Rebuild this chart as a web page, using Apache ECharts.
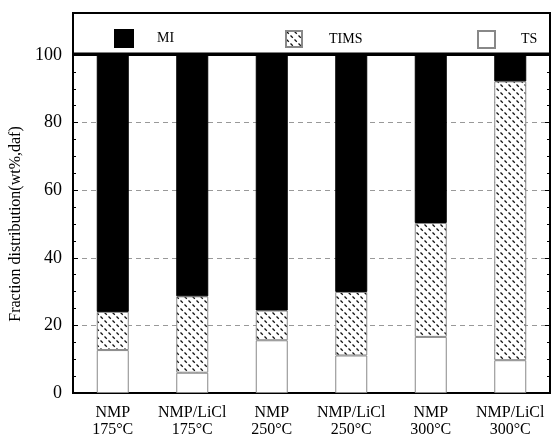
<!DOCTYPE html>
<html><head><meta charset="utf-8">
<script src="https://cdn.jsdelivr.net/npm/echarts@6/dist/echarts.min.js"></script>
<style>html,body{margin:0;padding:0;background:#fff}#c{width:556px;height:439px}</style>
</head><body><div id="c"></div>
<script>
const categories = ['NMP\n175°C','NMP/LiCl\n175°C','NMP\n250°C','NMP/LiCl\n250°C','NMP\n300°C','NMP/LiCl\n300°C'];
const tsValues   = [12.7, 6.0, 15.6, 11.1, 16.6, 9.7];
const timsValues = [11.3, 22.6, 8.8, 18.8, 33.7, 82.5];
const miValues   = [76.0, 71.4, 75.6, 70.1, 49.7, 7.8];
const yTicks = [0, 20, 40, 60, 80, 100];

function makePattern(){
  const c = document.createElement('canvas');
  c.width = 8; c.height = 8;
  const g = c.getContext('2d');
  g.fillStyle = '#fff'; g.fillRect(0,0,8,8);
  g.strokeStyle = '#111'; g.lineWidth = 1.3;
  g.beginPath();
  g.moveTo(0.5,0.5); g.lineTo(2.8,2.8);
  g.moveTo(4.5,4.5); g.lineTo(6.8,6.8);
  g.stroke();
  return c;
}
const pat = {image: makePattern(), repeat: 'repeat'};
const font = 'Liberation Serif';
const chart = echarts.init(document.getElementById('c'), null, {renderer:'canvas'});
const legendText = {fontFamily: font, fontSize: 14, color: '#000', padding:[0,0,0,19]};
chart.setOption({
  animation: false,
  grid: {left: 73, right: 6, top: 55, bottom: 46, show: true, borderColor: '#000', borderWidth: 2},
  legend: [
    {data: ['MI'], icon: 'rect', left: 109, top: 24, itemWidth: 18, itemHeight: 17, textStyle: legendText, selectedMode: false},
    {data: ['TIMS'], icon: 'rect', left: 280, top: 25, itemWidth: 16, itemHeight: 16, textStyle: Object.assign({}, legendText, {padding:[0,0,0,22]}), selectedMode: false},
    {data: ['TS'], icon: 'rect', left: 472, top: 25, itemWidth: 17, itemHeight: 17, textStyle: Object.assign({}, legendText, {padding:[0,0,0,21]}), selectedMode: false}
  ],
  graphic: [
    {type: 'rect', shape: {x: 73, y: 13, width: 477, height: 42}, style: {fill: 'none', stroke: '#000', lineWidth: 2}, z: 10},
    {type: 'line', shape: {x1: 73, y1: 54, x2: 550, y2: 54}, style: {stroke: '#000', lineWidth: 3}, z: 10}
  ],
  xAxis: {
    type: 'category', data: categories,
    axisLine: {lineStyle: {color: '#000', width: 2}},
    axisTick: {show: false},
    axisLabel: {color: '#000', fontFamily: font, fontSize: 16, lineHeight: 17, margin: 11, interval: 0}
  },
  yAxis: [{
    type: 'value', min: 0, max: 100, interval: 20,
    name: 'Fraction distribution(wt%,daf)', nameLocation: 'middle', nameGap: 44,
    nameTextStyle: {fontFamily: font, fontSize: 16, color: '#000'},
    axisLine: {show: true, lineStyle: {color: '#000', width: 2}},
    axisTick: {show: true, inside: true, length: 5, lineStyle: {color: '#000'}},
    minorTick: {show: true, splitNumber: 4, length: 3, lineStyle: {color: '#000'}},
    axisLabel: {color: '#000', fontFamily: font, fontSize: 18, margin: 11,
      formatter: v => yTicks.includes(v) ? String(v) : ''},
    splitLine: {show: true, lineStyle: {color: '#999', type: [5, 4], width: 1}}
  }, {
    type: 'value', min: 0, max: 100, interval: 20, position: 'right',
    axisLine: {show: true, lineStyle: {color: '#000', width: 2}},
    axisTick: {show: true, inside: true, length: 5, lineStyle: {color: '#000'}},
    minorTick: {show: true, splitNumber: 4, length: 3, lineStyle: {color: '#000'}},
    axisLabel: {show: false}, splitLine: {show: false}
  }],
  series: [
    {name: 'TS', type: 'bar', stack: 'a', data: tsValues, barWidth: 32,
      itemStyle: {color: '#fff', borderColor: '#888', borderWidth: 1}},
    {name: 'TIMS', type: 'bar', stack: 'a', data: timsValues, barWidth: 32,
      itemStyle: {color: pat, borderColor: '#888', borderWidth: 1}},
    {name: 'MI', type: 'bar', stack: 'a', data: miValues, barWidth: 32,
      itemStyle: {color: '#000', borderColor: '#000', borderWidth: 1}}
  ]
});
</script></body></html>
